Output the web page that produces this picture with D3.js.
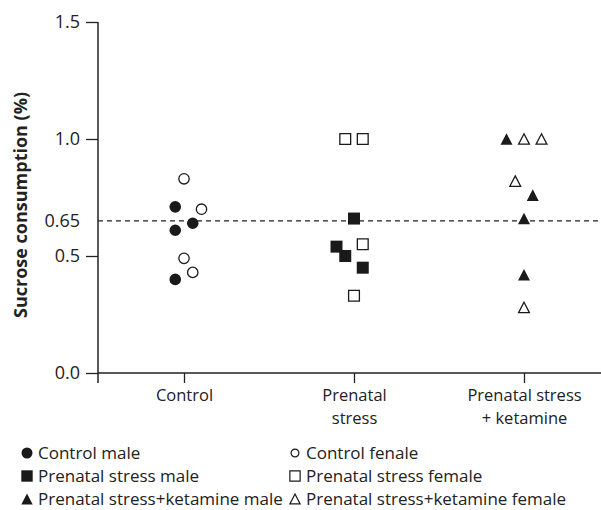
<!DOCTYPE html>
<html lang="en">
  <head>
    <meta charset="utf-8" />
    <title>Sucrose consumption</title>
    <script src="https://d3js.org/d3.v7.min.js"></script>
    <style>
      body { margin: 0; background: #fff; }
      text { font-family: "Open Sans", sans-serif; fill: #222; }
    </style>
  </head>
  <body>
    <script type="text/javascript">
      // groups on the x axis
      const groups = ["Control", "Prenatal stress", "Prenatal stress + ketamine"];
      const groupLines = [["Control"], ["Prenatal", "stress"], ["Prenatal stress", "+ ketamine"]];

      // values; col = horizontal jitter slot
      const controlMale = [0.71, 0.64, 0.61, 0.40];
      const controlMaleCol = [-1, 1, -1, -1];
      const controlFemale = [0.83, 0.70, 0.49, 0.43];
      const controlFemaleCol = [0, 2, 0, 1];
      const stressMale = [0.66, 0.54, 0.50, 0.45];
      const stressMaleCol = [0, -2, -1, 1];
      const stressFemale = [1.0, 1.0, 0.55, 0.33];
      const stressFemaleCol = [-1, 1, 1, 0];
      const ketMale = [1.0, 0.76, 0.66, 0.42];
      const ketMaleCol = [-2, 1, 0, 0];
      const ketFemale = [1.0, 1.0, 0.82, 0.28];
      const ketFemaleCol = [0, 2, -1, 0];

      const yTicks = [0.0, 0.5, 0.65, 1.0, 1.5];
      const refLine = 0.65;

      const legendItems = [
        ["Control male", "circle", true],
        ["Control fenale", "circle", false],
        ["Prenatal stress male", "square", true],
        ["Prenatal stress female", "square", false],
        ["Prenatal stress+ketamine male", "triangle", true],
        ["Prenatal stress+ketamine female", "triangle", false],
      ];

      const w = 601;
      const h = 510;
      const mLeft = 98;
      const mBottom = 373;
      const mTop = 22;

      const svg = d3.select("body").append("svg").attr("width", w).attr("height", h);

      const x = d3.scalePoint().domain(groups).range([184, 524]);
      const jitter = d3.scaleLinear().domain([-2, 2]).range([-17.5, 17.5]);
      const y = d3.scaleLinear().domain([0, 1.5]).range([mBottom, mTop]);

      // build point list
      function pts(vals, cols, g, shape, filled) {
        return vals.map((v, i) => ({ v: v, c: cols[i], g: g, shape: shape, filled: filled }));
      }
      const points = [].concat(
        pts(controlMale, controlMaleCol, groups[0], "circle", true),
        pts(controlFemale, controlFemaleCol, groups[0], "circle", false),
        pts(stressMale, stressMaleCol, groups[1], "square", true),
        pts(stressFemale, stressFemaleCol, groups[1], "square", false),
        pts(ketMale, ketMaleCol, groups[2], "triangle", true),
        pts(ketFemale, ketFemaleCol, groups[2], "triangle", false)
      );

      function shapePath(shape, filled, s) {
        s = s || 1;
        if (shape === "circle") {
          const r = (filled ? 5.8 : 5.2) * s;
          return "M" + r + ",0A" + r + "," + r + " 0 1,1 " + -r + ",0A" + r + "," + r + " 0 1,1 " + r + ",0Z";
        }
        if (shape === "square") {
          const a = (filled ? 6 : 5.4) * s;
          return "M" + -a + "," + -a + "H" + a + "V" + a + "H" + -a + "Z";
        }
        const hw = (filled ? 6 : 5.4) * s;
        const hh = (filled ? 5.8 : 5.2) * s;
        return "M0," + -hh + "L" + hw + "," + hh + "H" + -hw + "Z";
      }

      // dashed reference line
      svg
        .append("line")
        .attr("x1", mLeft)
        .attr("x2", w)
        .attr("y1", y(refLine))
        .attr("y2", y(refLine))
        .attr("stroke", "#222")
        .attr("stroke-width", 1.2)
        .attr("stroke-dasharray", "5,4");

      // y axis
      const yAxis = d3.axisLeft(y).tickValues(yTicks).tickSize(12).tickPadding(6)
        .tickFormat((d) => (d === 0.65 ? "0.65" : d3.format(".1f")(d)));
      const gy = svg.append("g").attr("transform", "translate(" + mLeft + ",0)").call(yAxis);
      gy.select(".domain").attr("d", "M0," + mTop + "V" + (mBottom + 10));
      gy.selectAll(".tick line").attr("stroke", "#222").attr("stroke-width", 1.3)
        .filter((d) => d === 0.65).remove();
      gy.selectAll(".tick text").attr("font-size", "18px").attr("fill", "#222")
        .attr("font-family", "Open Sans, sans-serif");

      // x axis
      const xAxis = d3.axisBottom(x).tickSize(10).tickFormat("");
      const gx = svg.append("g").attr("transform", "translate(0," + mBottom + ")").call(xAxis);
      gx.select(".domain").attr("d", "M" + mLeft + ",0H" + w);
      gx.selectAll(".tick line").attr("stroke", "#222").attr("stroke-width", 1.3);
      svg.selectAll(".domain").attr("stroke", "#222").attr("stroke-width", 1.5);

      // two-line category labels, one text per line
      gx.selectAll(".tick")
        .selectAll("text.cat")
        .data((d, i) => groupLines[i])
        .enter()
        .append("text")
        .attr("class", "cat")
        .attr("text-anchor", "middle")
        .attr("font-size", "16.5px")
        .attr("fill", "#222")
        .attr("x", 0)
        .attr("y", (d, i) => 28 + i * 22.5)
        .text((d) => d);

      // y axis title
      svg
        .append("text")
        .attr("transform", "translate(27,205) rotate(-90)")
        .attr("text-anchor", "middle")
        .attr("font-size", "18px")
        .attr("font-weight", "bold")
        .text("Sucrose consumption (%)");

      // points
      svg
        .selectAll("path.pt")
        .data(points)
        .enter()
        .append("path")
        .attr("class", "pt")
        .attr("transform", (d) => "translate(" + (x(d.g) + jitter(d.c)) + "," + y(d.v) + ")")
        .attr("d", (d) => shapePath(d.shape, d.filled))
        .attr("fill", (d) => (d.filled ? "#1a1a1a" : "#fff"))
        .attr("stroke", "#1a1a1a")
        .attr("stroke-width", (d) => (d.filled ? 0 : 1.3));

      // legend
      const leg = svg
        .selectAll("g.leg")
        .data(legendItems)
        .enter()
        .append("g")
        .attr("class", "leg")
        .attr("transform", (d, i) => "translate(" + (i % 2 === 0 ? 27 : 295) + "," + (453 + Math.floor(i / 2) * 23) + ")");

      leg
        .append("path")
        .attr("d", (d) => (d[1] === "circle" && !d[2] ? shapePath("circle", false, 0.75) : shapePath(d[1], d[2], 0.95)))
        .attr("fill", (d) => (d[2] ? "#1a1a1a" : "#fff"))
        .attr("stroke", "#1a1a1a")
        .attr("stroke-width", (d) => (d[2] ? 0 : 1.2));

      leg
        .append("text")
        .attr("x", 11)
        .attr("y", 6)
        .attr("font-size", "17px")
        .text((d) => d[0]);
    </script>
  </body>
</html>
